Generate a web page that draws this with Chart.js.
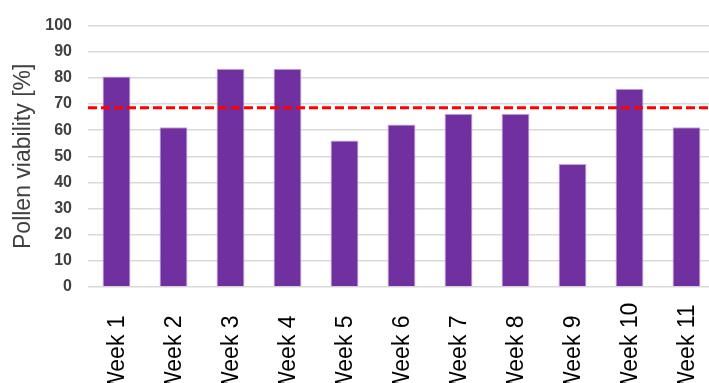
<!DOCTYPE html>
<html>
<head>
<meta charset="utf-8">
<script src="https://cdn.jsdelivr.net/npm/chart.js@4/dist/chart.umd.min.js"></script>
<style>
  html, body { margin: 0; padding: 0; background: #ffffff; overflow: hidden; }
  #wrap { position: absolute; left: 0; top: 0; width: 715px; height: 383px; }
</style>
</head>
<body>
<div id="wrap"><canvas id="chart"></canvas></div>
<script>
// Weekly pollen viability (%) and the reference threshold line
const weeks = ['Week 1', 'Week 2', 'Week 3', 'Week 4', 'Week 5', 'Week 6',
               'Week 7', 'Week 8', 'Week 9', 'Week 10', 'Week 11'];
const viability = [80.5, 61.1, 83.5, 83.5, 56.0, 62.2, 66.3, 66.3, 47.1, 75.8, 61.1];
const thresholdValue = 68.6;
const yTicks = [0, 10, 20, 30, 40, 50, 60, 70, 80, 90, 100];

const FONT = 'Liberation Sans, Arial, sans-serif';

// Dashed horizontal threshold across the plot area
const thresholdLine = {
  id: 'thresholdLine',
  afterDatasetsDraw(chart) {
    const { ctx, chartArea, scales } = chart;
    const y = scales.y.getPixelForValue(thresholdValue);
    ctx.save();
    ctx.strokeStyle = '#ff0000';
    ctx.lineWidth = 3;
    ctx.setLineDash([9, 4]);
    ctx.beginPath();
    ctx.moveTo(chartArea.left, y);
    ctx.lineTo(chartArea.right, y);
    ctx.stroke();
    ctx.restore();
  }
};

// Vertical category labels, anchored at their first letter below the axis
const verticalLabels = {
  id: 'verticalLabels',
  afterDraw(chart) {
    const { ctx, chartArea, scales } = chart;
    const xs = scales.x;
    ctx.save();
    ctx.fillStyle = '#000000';
    ctx.font = '23px ' + FONT;
    ctx.textAlign = 'left';
    ctx.textBaseline = 'middle';
    const startY = chartArea.bottom + 106;
    xs.ticks.forEach((t, i) => {
      const x = xs.getPixelForTick(i);
      ctx.save();
      ctx.translate(x + 1, startY);
      ctx.rotate(-Math.PI / 2);
      ctx.fillText(weeks[i], 0, 0);
      ctx.restore();
    });
    ctx.restore();
  }
};

new Chart(document.getElementById('chart'), {
  type: 'bar',
  data: {
    labels: weeks,
    datasets: [{
      data: viability,
      backgroundColor: '#7030a0',
      borderColor: '#c4a8dc',
      borderWidth: 1,
      barPercentage: 0.49,
      categoryPercentage: 1.0
    }]
  },
  options: {
    responsive: true,
    maintainAspectRatio: false,
    animation: false,
    layout: { padding: { left: 0, right: 0, top: 14, bottom: 96 } },
    plugins: {
      legend: { display: false },
      tooltip: { enabled: false }
    },
    scales: {
      x: {
        grid: { display: false, drawTicks: false },
        border: { display: false },
        ticks: { display: false }
      },
      y: {
        min: 0,
        max: 100,
        afterBuildTicks(axis) { axis.ticks = yTicks.map(v => ({ value: v })); },
        afterFit(axis) { axis.width = 88; },
        grid: { color: '#d9d9d9', lineWidth: 1.5, drawTicks: false },
        border: { display: false },
        ticks: {
          padding: 16,
          color: '#404040',
          font: { family: FONT, size: 16, weight: 'bold' }
        },
        title: {
          display: true,
          text: 'Pollen viability [%]',
          color: '#404040',
          padding: { top: 10, bottom: 0 },
          font: { family: FONT, size: 23 }
        }
      }
    }
  },
  plugins: [thresholdLine, verticalLabels]
});
</script>
</body>
</html>
